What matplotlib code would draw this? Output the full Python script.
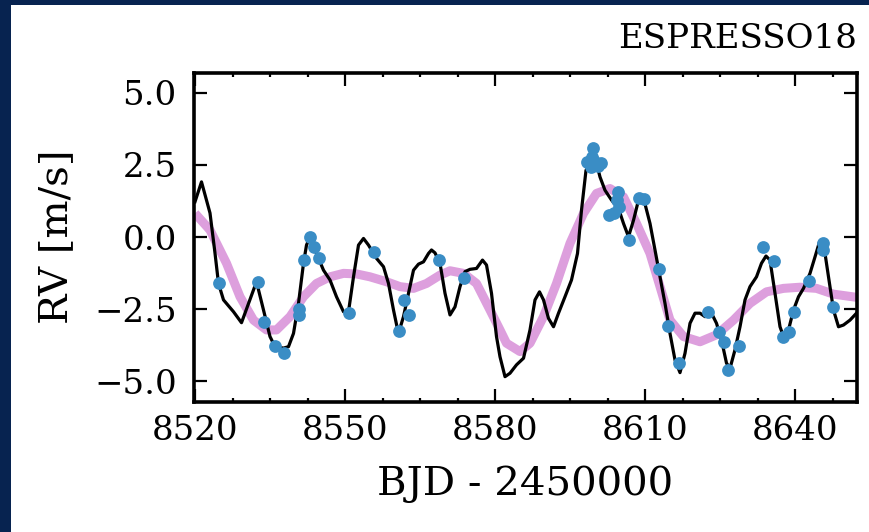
import matplotlib
matplotlib.use("Agg")
import matplotlib.pyplot as plt
from matplotlib.patches import Rectangle
from matplotlib.ticker import MultipleLocator, FuncFormatter

plt.rcParams['font.family'] = ['DejaVu Serif']

# ESPRESSO18 radial velocities
bjd = [8524.8, 8532.5, 8533.8, 8535.9, 8537.8, 8540.8, 8540.8, 8541.8, 8542.9,
       8543.8, 8544.7, 8550.8, 8555.7, 8561.8, 8562.8, 8560.8, 8568.8, 8573.7,
       8599.6, 8598.4, 8599.2, 8599.8, 8600.6, 8601.2, 8599.4, 8604.5, 8604.4,
       8604.8, 8602.8, 8603.8, 8606.8, 8608.8, 8609.8, 8612.8, 8614.5, 8616.7,
       8622.5, 8624.7, 8625.7, 8626.5, 8628.7, 8633.5, 8635.8, 8637.5, 8638.7,
       8639.7, 8642.7, 8645.5, 8645.5, 8647.5]
rv = [-1.60, -1.55, -2.93, -3.76, -4.03, -2.49, -2.70, -0.78, 0.01,
      -0.36, -0.74, -2.64, -0.51, -2.18, -2.71, -3.26, -0.79, -1.41,
      3.09, 2.59, 2.42, 2.63, 2.45, 2.56, 2.76, 1.56, 1.28,
      1.03, 0.76, 0.83, -0.11, 1.34, 1.30, -1.11, -3.07, -4.37,
      -2.61, -3.28, -3.63, -4.61, -3.76, -0.34, -0.82, -3.47, -3.30,
      -2.59, -1.52, -0.20, -0.45, -2.42]

# GP + planet prediction
gp_t = [8520.0, 8521.3, 8523.0, 8524.0, 8524.7, 8525.7, 8527.7, 8529.3, 8532.3,
        8533.7, 8535.0, 8536.0, 8537.7, 8538.7, 8539.7, 8540.7, 8541.7, 8542.3,
        8543.0, 8544.7, 8545.7, 8547.0, 8548.3, 8549.7, 8550.7, 8551.7, 8552.7,
        8553.7, 8554.7, 8556.3, 8557.7, 8558.7, 8559.7, 8560.4, 8560.9, 8561.7,
        8562.7, 8563.7, 8564.7, 8565.7, 8566.7, 8567.3, 8568.0, 8569.0, 8570.0,
        8571.0, 8572.0, 8573.0, 8574.0, 8575.0, 8576.3, 8577.5, 8578.3, 8579.3,
        8580.3, 8581.0, 8582.0, 8583.0, 8584.3, 8585.7, 8587.0, 8588.0, 8588.9,
        8589.7, 8590.7, 8591.7, 8592.7, 8594.0, 8595.3, 8596.5, 8597.3, 8598.2,
        8599.4, 8600.4, 8601.0, 8602.0, 8603.3, 8604.7, 8605.7, 8606.7, 8607.7,
        8608.7, 8609.8, 8611.0, 8612.0, 8613.0, 8614.0, 8615.0, 8616.0, 8617.0,
        8618.0, 8619.0, 8620.0, 8621.0, 8622.0, 8623.3, 8624.3, 8625.3, 8626.3,
        8627.0, 8628.0, 8629.0, 8630.0, 8631.0, 8632.3, 8633.3, 8634.2, 8635.0,
        8636.0, 8637.0, 8637.7, 8638.7, 8639.7, 8640.7, 8641.7, 8643.0, 8644.0,
        8644.9, 8645.7, 8646.7, 8647.7, 8648.7, 8649.7, 8651.0, 8652.3]
gp_rv = [1.22, 1.91, 0.83, -0.56, -1.61, -2.18, -2.59, -2.97, -1.55,
         -2.53, -3.45, -3.80, -3.85, -3.80, -3.34, -2.30, -0.91, -0.28,
         0.00, -0.74, -1.15, -1.49, -2.07, -2.59, -2.59, -1.38, -0.28,
         -0.05, -0.28, -0.74, -1.03, -1.61, -2.53, -3.11, -3.22, -2.76,
         -1.95, -1.15, -0.94, -0.86, -0.57, -0.45, -0.55, -0.91, -1.95,
         -2.70, -2.42, -1.72, -1.20, -1.12, -1.09, -0.80, -0.97, -1.95,
         -3.45, -4.15, -4.84, -4.72, -4.43, -4.20, -3.22, -2.18, -1.90,
         -2.18, -2.82, -3.11, -2.64, -2.07, -1.49, -0.57, 0.93, 2.31,
         2.66, 2.49, 2.08, 1.62, 1.28, 0.99, 0.47, 0.01, 0.58,
         1.28, 1.28, 0.47, -0.45, -1.38, -2.30, -3.34, -4.26, -4.70,
         -4.03, -2.99, -2.64, -2.64, -2.76, -2.64, -2.99, -3.57, -4.37,
         -4.55, -3.91, -3.11, -2.18, -1.72, -1.38, -0.91, -0.66, -0.80,
         -1.95, -3.11, -3.45, -3.22, -2.53, -2.07, -1.78, -1.26, -0.69,
         -0.17, -0.22, -1.38, -2.53, -3.11, -3.05, -2.88, -2.64]

# Planetary signal alone
kep_t = [8520.0, 8523.0, 8526.3, 8529.0, 8531.7, 8534.3, 8536.3, 8539.0, 8541.7,
         8544.3, 8547.0, 8549.7, 8552.3, 8555.0, 8558.3, 8561.0, 8563.7, 8566.3,
         8569.0, 8571.0, 8573.7, 8576.3, 8579.0, 8581.0, 8582.3, 8585.0, 8587.0,
         8589.7, 8592.3, 8595.0, 8597.7, 8600.3, 8603.0, 8605.7, 8608.3, 8611.0,
         8613.0, 8615.0, 8617.7, 8621.0, 8624.3, 8627.7, 8631.0, 8634.3, 8637.7,
         8641.0, 8644.3, 8647.7, 8652.3]
kep_rv = [0.82, 0.24, -0.91, -2.07, -2.88, -3.22, -3.22, -2.76, -2.07,
          -1.61, -1.38, -1.26, -1.28, -1.38, -1.55, -1.72, -1.78, -1.61,
          -1.32, -1.17, -1.26, -1.61, -2.53, -3.22, -3.68, -3.97, -3.68,
          -2.76, -1.61, -0.22, 0.82, 1.51, 1.68, 1.39, 0.47, -0.57,
          -1.72, -2.88, -3.45, -3.63, -3.39, -2.88, -2.30, -1.90, -1.78,
          -1.74, -1.78, -1.98, -2.09]

W, H = 869, 532
fig = plt.figure(figsize=(W / 100, H / 100), dpi=100)
fig.patch.set_facecolor('#072350')
fig.add_artist(Rectangle((11 / W, 0), 1 - 11 / W, 1 - 5 / H,
                         transform=fig.transFigure, facecolor='white',
                         edgecolor='none', zorder=-5))

ax = fig.add_axes([193.5 / W, 1 - 401.5 / H, (857 - 193.5) / W, (401.5 - 72.5) / H])

ax.plot(kep_t, kep_rv, color='#dd9fdd', lw=6.5, solid_capstyle='butt',
        solid_joinstyle='round', zorder=1)
ax.plot(gp_t, gp_rv, color='black', lw=2.3, solid_joinstyle='round', zorder=2)
ax.plot(bjd, rv, 'o', color='#3a8dc5', ms=9.2, mec='none', zorder=3)

ax.set_xlim(8519.7, 8652.4)
ax.set_ylim(-5.7, 5.7)
ax.xaxis.set_major_locator(MultipleLocator(30))
ax.xaxis.set_minor_locator(MultipleLocator(7.5))
ax.yaxis.set_major_locator(MultipleLocator(2.5))
ax.yaxis.set_major_formatter(FuncFormatter(lambda v, p: f'{v:.1f}'.replace('-', '\u2212')))

ax.tick_params(which='both', direction='in', top=True, right=True, width=1.6,
               labelsize=24.5)
ax.tick_params(which='major', length=9.5)
ax.tick_params(which='minor', length=3)
ax.tick_params(axis='y', pad=12)
ax.tick_params(axis='x', pad=10)
for s in ax.spines.values():
    s.set_linewidth(2.6)

ax.set_xlabel('BJD - 2450000', fontsize=29, labelpad=13)
ax.set_ylabel('RV [m/s]', fontsize=29, labelpad=14)
ax.set_title('ESPRESSO18', loc='right', fontsize=24.5, pad=18)

fig.savefig('out.png', dpi=100, facecolor=fig.get_facecolor())
